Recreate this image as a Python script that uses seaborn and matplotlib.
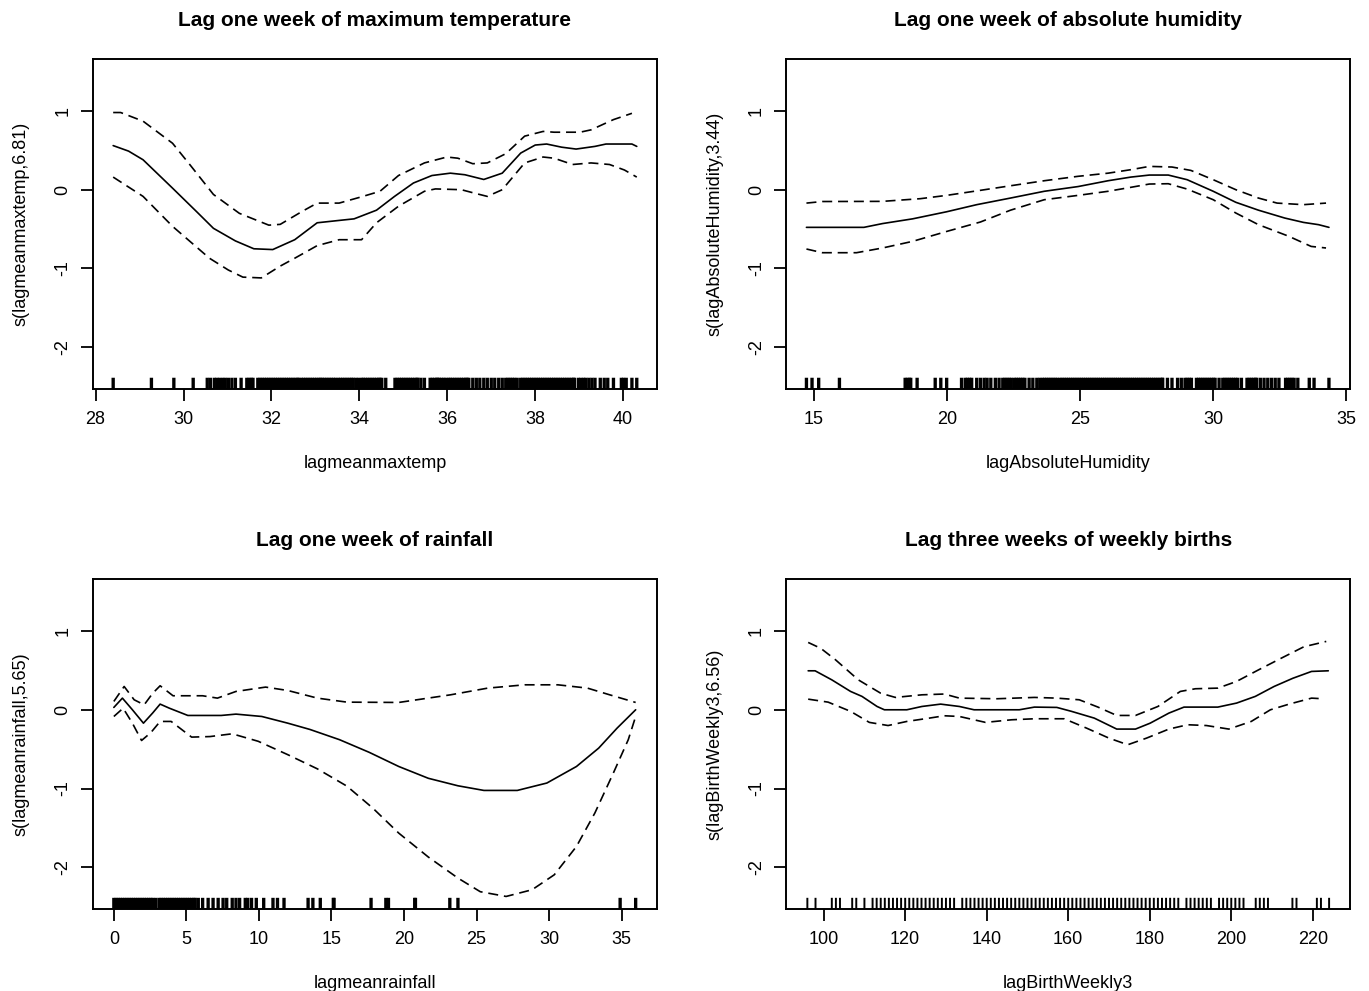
import matplotlib
matplotlib.use("Agg")
import matplotlib.pyplot as plt
import seaborn as sns

# ---- lag one week of maximum temperature, s(lagmeanmaxtemp,6.81)
temp_fit_x = [28.40, 28.75, 29.08, 29.75, 30.30, 30.68, 31.18, 31.60, 32.03, 32.53, 33.04, 33.54, 33.88,
              34.39, 34.80, 35.23, 35.65, 36.07, 36.40, 36.83, 37.25, 37.67, 38.00, 38.26, 38.60, 38.93,
              39.36, 39.61, 40.20, 40.31]
temp_fit_y = [0.56, 0.49, 0.38, 0.02, -0.28, -0.49, -0.65, -0.75, -0.76, -0.635, -0.42, -0.39, -0.37,
              -0.26, -0.085, 0.085, 0.18, 0.21, 0.19, 0.13, 0.21, 0.465, 0.567, 0.58, 0.54, 0.516, 0.55,
              0.58, 0.58, 0.55]
temp_up_x = [28.40, 28.57, 29.08, 29.75, 30.17, 30.68, 31.27, 31.94, 32.20, 32.70, 33.04, 33.54, 34.05,
             34.47, 34.89, 35.48, 35.99, 36.24, 36.58, 36.91, 37.33, 37.76, 38.18, 38.43, 39.02, 39.27,
             39.78, 40.20]
temp_up_y = [0.98, 0.98, 0.87, 0.59, 0.30, -0.06, -0.30, -0.45, -0.44, -0.275, -0.17, -0.17, -0.09,
             -0.02, 0.18, 0.34, 0.415, 0.40, 0.33, 0.34, 0.457, 0.68, 0.74, 0.73, 0.73, 0.76, 0.89, 0.97]
temp_lo_x = [28.40, 29.08, 29.75, 30.59, 31.02, 31.35, 31.77, 32.20, 32.53, 33.04, 33.54, 34.05, 34.39,
             34.89, 35.48, 35.73, 36.32, 36.66, 36.91, 37.25, 37.76, 38.18, 38.43, 38.85, 39.27, 39.69,
             40.03, 40.31]
temp_lo_y = [0.16, -0.085, -0.465, -0.87, -1.02, -1.11, -1.12, -0.97, -0.87, -0.71, -0.635, -0.635, -0.42,
             -0.21, -0.02, 0.01, 0.0, -0.05, -0.085, 0.0, 0.34, 0.415, 0.40, 0.32, 0.34, 0.32, 0.25, 0.16]
temp_rug = [28.40, 29.27, 29.78, 30.22, 30.54, 30.61, 30.70, 30.76, 30.82, 30.89, 30.95, 31.02, 31.10,
            31.18, 31.31, 31.44, 31.49, 31.54, 31.58, 31.69, 31.74, 31.79, 31.84, 31.89, 31.94, 31.99,
            32.04, 32.09, 32.14, 32.19, 32.24, 32.29, 32.34, 32.39, 32.44, 32.49, 32.54, 32.59, 32.62,
            32.68, 32.73, 32.78, 32.83, 32.88, 32.93, 32.98, 33.03, 33.08, 33.12, 33.16, 33.21, 33.26,
            33.31, 33.36, 33.41, 33.46, 33.52, 33.57, 33.62, 33.67, 33.72, 33.77, 33.82, 33.86, 33.92,
            33.98, 34.05, 34.09, 34.14, 34.19, 34.24, 34.29, 34.34, 34.39, 34.44, 34.47, 34.51, 34.60,
            34.81, 34.86, 34.91, 34.96, 35.01, 35.06, 35.11, 35.16, 35.21, 35.26, 35.31, 35.33, 35.40,
            35.48, 35.61, 35.66, 35.71, 35.76, 35.78, 35.82, 35.87, 35.92, 35.97, 36.03, 36.07, 36.12,
            36.17, 36.22, 36.27, 36.32, 36.37, 36.42, 36.45, 36.49, 36.58, 36.66, 36.74, 36.83, 36.91,
            37.00, 37.08, 37.17, 37.25, 37.33, 37.38, 37.43, 37.48, 37.53, 37.59, 37.67, 37.72, 37.77,
            37.82, 37.87, 37.92, 37.97, 38.02, 38.07, 38.12, 38.17, 38.22, 38.27, 38.32, 38.37, 38.42,
            38.47, 38.52, 38.57, 38.62, 38.67, 38.72, 38.77, 38.82, 38.87, 38.89, 38.98, 39.04, 39.10,
            39.15, 39.22, 39.29, 39.36, 39.48, 39.57, 39.65, 39.78, 39.96, 40.01, 40.07, 40.20, 40.31]

# ---- lag one week of absolute humidity, s(lagAbsoluteHumidity,3.44)
hum_fit_x = [14.72, 16.88, 17.58, 18.71, 19.99, 21.12, 22.39, 23.66, 24.93, 26.06, 26.91, 27.61, 28.32,
             29.03, 30.01, 30.86, 31.71, 32.70, 33.40, 33.97, 34.36]
hum_fit_y = [-0.478, -0.478, -0.43, -0.37, -0.28, -0.19, -0.106, -0.02, 0.04, 0.114, 0.16, 0.186, 0.186,
             0.127, -0.02, -0.16, -0.26, -0.36, -0.415, -0.444, -0.478]
hum_up_x = [14.72, 15.32, 17.58, 19.00, 19.99, 21.26, 22.39, 23.66, 24.93, 26.06, 26.91, 27.61, 28.46,
            29.17, 30.01, 30.86, 31.71, 32.41, 33.40, 34.25]
hum_up_y = [-0.17, -0.15, -0.148, -0.114, -0.072, -0.008, 0.05, 0.114, 0.17, 0.21, 0.254, 0.296, 0.288,
            0.245, 0.127, 0.0, -0.106, -0.17, -0.19, -0.17]
hum_lo_x = [14.72, 15.32, 16.60, 17.58, 18.71, 19.99, 21.26, 22.39, 23.66, 24.93, 26.06, 26.91, 27.61,
            28.32, 29.03, 30.01, 30.86, 31.71, 32.84, 33.69, 34.25]
hum_lo_y = [-0.753, -0.80, -0.80, -0.74, -0.656, -0.53, -0.41, -0.26, -0.127, -0.072, -0.02, 0.03, 0.072,
            0.076, 0.008, -0.127, -0.296, -0.444, -0.59, -0.72, -0.74]
hum_rug = [14.72, 14.93, 15.18, 15.96, 18.43, 18.51, 18.59, 18.64, 18.88, 19.56, 19.77, 19.99, 20.55,
           20.69, 20.77, 20.85, 20.93, 21.12, 21.26, 21.40, 21.51, 21.65, 21.82, 21.96, 22.10, 22.18,
           22.26, 22.34, 22.42, 22.53, 22.61, 22.69, 22.77, 22.85, 22.93, 23.09, 23.23, 23.38, 23.49,
           23.59, 23.67, 23.75, 23.83, 23.91, 23.99, 24.07, 24.15, 24.25, 24.33, 24.41, 24.49, 24.57,
           24.65, 24.73, 24.81, 24.89, 24.97, 25.05, 25.13, 25.21, 25.29, 25.37, 25.45, 25.53, 25.61,
           25.69, 25.77, 25.85, 25.93, 26.01, 26.09, 26.17, 26.25, 26.33, 26.41, 26.49, 26.57, 26.65,
           26.73, 26.81, 26.89, 26.97, 27.05, 27.13, 27.21, 27.29, 27.37, 27.45, 27.53, 27.61, 27.69,
           27.77, 27.85, 27.93, 28.01, 28.09, 28.11, 28.29, 28.46, 28.67, 28.81, 28.95, 29.03, 29.11,
           29.19, 29.38, 29.46, 29.54, 29.62, 29.70, 29.78, 29.86, 29.94, 30.02, 30.08, 30.23, 30.37,
           30.45, 30.53, 30.61, 30.69, 30.77, 30.85, 30.93, 31.07, 31.28, 31.36, 31.44, 31.52, 31.60,
           31.64, 31.78, 31.92, 32.06, 32.20, 32.34, 32.48, 32.73, 32.81, 32.89, 32.97, 33.05, 33.19,
           33.62, 33.80, 34.36]

# ---- lag one week of rainfall, s(lagmeanrainfall,5.65)
rain_fit_x = [0.0, 0.59, 1.28, 2.04, 2.68, 3.19, 3.83, 5.10, 7.40, 8.42, 10.20, 11.99, 13.52, 15.56,
              17.60, 19.64, 21.68, 23.72, 25.51, 27.81, 29.85, 31.89, 33.42, 34.69, 35.97]
rain_fit_y = [0.03, 0.148, 0.0, -0.17, -0.04, 0.072, 0.02, -0.072, -0.072, -0.055, -0.085, -0.17, -0.25,
              -0.38, -0.54, -0.72, -0.87, -0.965, -1.024, -1.024, -0.93, -0.72, -0.487, -0.233, 0.0]
rain_up_x = [0.0, 0.71, 1.40, 2.09, 2.68, 3.19, 4.08, 6.12, 7.14, 8.42, 10.46, 11.99, 14.03, 16.07,
             19.64, 23.21, 25.77, 28.32, 30.61, 32.65, 34.18, 35.97]
rain_up_y = [0.106, 0.296, 0.127, 0.063, 0.21, 0.305, 0.178, 0.178, 0.148, 0.233, 0.288, 0.245, 0.148,
             0.097, 0.093, 0.19, 0.275, 0.317, 0.317, 0.275, 0.19, 0.093]
rain_lo_x = [0.0, 0.64, 1.28, 1.91, 2.55, 3.19, 3.95, 5.36, 6.63, 8.16, 9.95, 11.99, 14.03, 16.07, 17.86,
             19.64, 21.68, 23.72, 25.26, 27.04, 28.83, 30.36, 31.89, 33.16, 34.44, 35.46, 35.97]
rain_lo_y = [-0.085, 0.02, -0.17, -0.39, -0.29, -0.148, -0.148, -0.347, -0.34, -0.305, -0.40, -0.57, -0.75,
             -0.97, -1.25, -1.566, -1.87, -2.137, -2.31, -2.37, -2.285, -2.095, -1.735, -1.31, -0.80,
             -0.38, -0.085]
rain_rug = [0.00, 0.15, 0.30, 0.45, 0.60, 0.75, 0.90, 1.05, 1.20, 1.35, 1.50, 1.65, 1.80, 1.95, 2.10,
            2.25, 2.40, 2.55, 2.68, 2.88, 3.11, 3.26, 3.41, 3.56, 3.71, 3.86, 4.01, 4.16, 4.31, 4.46,
            4.61, 4.76, 4.91, 5.06, 5.21, 5.36, 5.51, 5.61, 5.82, 6.12, 6.50, 6.84, 7.19, 7.53, 7.78,
            8.16, 8.42, 8.67, 9.06, 9.23, 9.49, 9.82, 10.33, 10.97, 11.28, 11.73, 13.39, 13.72, 14.23,
            15.13, 15.18, 17.73, 18.75, 18.93, 20.74, 20.79, 23.16, 23.72, 34.90, 35.97]

# ---- lag three weeks of weekly births, s(lagBirthWeekly3,6.56)
birth_fit_x = [96.2, 97.9, 102.0, 106.6, 109.4, 113.1, 114.9, 120.4, 124.1, 128.7, 133.3, 136.9, 148.0,
               151.7, 157.2, 160.8, 166.4, 171.9, 176.5, 180.1, 184.7, 188.4, 196.7, 201.3, 205.9, 210.5,
               215.1, 219.7, 223.8]
birth_fit_y = [0.495, 0.495, 0.38, 0.233, 0.17, 0.042, 0.0, 0.0, 0.042, 0.072, 0.042, 0.0, 0.0, 0.034,
               0.03, -0.02, -0.106, -0.245, -0.245, -0.17, -0.042, 0.034, 0.034, 0.085, 0.17, 0.296,
               0.40, 0.487, 0.495]
birth_up_x = [96.2, 99.3, 102.9, 108.5, 114.0, 117.6, 124.1, 129.6, 133.3, 142.5, 151.7, 157.2, 162.7,
              167.3, 171.9, 176.5, 182.0, 187.5, 191.2, 196.7, 201.3, 206.8, 212.3, 217.8, 223.3]
birth_up_y = [0.855, 0.78, 0.635, 0.38, 0.21, 0.157, 0.19, 0.2, 0.148, 0.14, 0.157, 0.148, 0.127, 0.034,
              -0.072, -0.072, 0.042, 0.233, 0.267, 0.275, 0.36, 0.51, 0.656, 0.80, 0.868]
birth_lo_x = [96.2, 101.1, 106.6, 111.2, 115.8, 120.4, 125.9, 129.6, 133.3, 139.7, 146.1, 151.7, 159.0,
              164.5, 170.0, 174.6, 179.2, 184.7, 189.3, 193.9, 199.4, 204.9, 209.6, 214.2, 219.7, 222.4]
birth_lo_y = [0.135, 0.097, -0.02, -0.16, -0.2, -0.148, -0.106, -0.076, -0.085, -0.16, -0.127, -0.114,
              -0.114, -0.233, -0.36, -0.444, -0.36, -0.245, -0.19, -0.2, -0.245, -0.148, 0.0, 0.072,
              0.148, 0.14]
birth_rug = [96, 98, 102, 103, 104, 107, 108, 110, 112, 113, 114, 115, 116, 117, 118, 119, 120, 121, 122,
             123, 124, 125, 126, 127, 128, 129, 130, 131, 132, 134, 135, 136, 137, 138, 139, 140, 141,
             142, 143, 144, 145, 146, 147, 148, 149, 150, 151, 152, 153, 154, 155, 156, 157, 158, 159,
             160, 161, 162, 163, 164, 165, 166, 167, 168, 169, 170, 171, 172, 173, 174, 175, 176, 177,
             178, 179, 180, 181, 182, 183, 184, 185, 186, 187, 189, 190, 191, 192, 193, 194, 195, 197,
             198, 199, 200, 201, 202, 203, 206, 207, 208, 209, 215, 216, 221, 222, 224]

y_ticks = [-2, -1, 0, 1]
y_tick_labels = ["-2", "-1", "0", "1"]

sns.set_theme(style="white")
plt.rcParams["font.family"] = ["Liberation Sans", "DejaVu Sans"]
plt.rcParams["text.color"] = "black"
plt.rcParams["axes.labelcolor"] = "black"

DASH = (0, (6, 3.5))


def draw_smooth(ax, fit, upper, lower, rug, rug_lw, xlim, xticks, title, xlabel, ylabel):
    """One term of the fitted GAM: smooth, +/- 2 se bands and a rug of the observations."""
    sns.lineplot(x=fit[0], y=fit[1], ax=ax, color="black", linewidth=1.2, sort=False)
    for band in (upper, lower):
        sns.lineplot(x=band[0], y=band[1], ax=ax, color="black", linewidth=1.2,
                     linestyle=DASH, sort=False)
    sns.rugplot(x=rug, ax=ax, height=0.034, color="black", expand_margins=False)
    rug_lines = ax.collections[-1]
    rug_lines.set_linewidth(rug_lw)
    rug_lines.set_snap(False)

    ax.set_xlim(*xlim)
    ax.set_ylim(-2.53, 1.66)
    ax.set_xticks(xticks)
    ax.set_xticklabels([str(t) for t in xticks])
    ax.set_yticks(y_ticks)
    ax.set_yticklabels(y_tick_labels, rotation=90, va="center")
    ax.tick_params(axis="both", direction="out", length=8.6, width=1.3, labelsize=13,
                   colors="black", bottom=True, left=True)
    ax.tick_params(axis="x", pad=7.5)
    ax.tick_params(axis="y", pad=7)
    for side in ax.spines.values():
        side.set_visible(True)
        side.set_color("black")
        side.set_linewidth(1.4)

    ax.set_title(title, fontsize=15, fontweight="bold", pad=24, color="black")
    ax.set_xlabel(xlabel, fontsize=13)
    ax.set_ylabel(ylabel, fontsize=13)
    ax.xaxis.set_label_coords(0.5, -0.2)
    ax.yaxis.set_label_coords(-0.112, 0.5)


fig = plt.figure(figsize=(13.69, 9.91), dpi=100)
ax1 = fig.add_axes([0.0679, 0.6075, 0.412, 0.333])
ax2 = fig.add_axes([0.5745, 0.6075, 0.4116, 0.333])
ax3 = fig.add_axes([0.0679, 0.0827, 0.412, 0.333])
ax4 = fig.add_axes([0.5745, 0.0827, 0.4116, 0.333])

draw_smooth(ax1, (temp_fit_x, temp_fit_y), (temp_up_x, temp_up_y), (temp_lo_x, temp_lo_y), temp_rug, 2.4,
            (27.94, 40.77), [28, 30, 32, 34, 36, 38, 40],
            "Lag one week of maximum temperature", "lagmeanmaxtemp", "s(lagmeanmaxtemp,6.81)")
draw_smooth(ax2, (hum_fit_x, hum_fit_y), (hum_up_x, hum_up_y), (hum_lo_x, hum_lo_y), hum_rug, 2.4,
            (13.97, 35.15), [15, 20, 25, 30, 35],
            "Lag one week of absolute humidity", "lagAbsoluteHumidity", "s(lagAbsoluteHumidity,3.44)")
draw_smooth(ax3, (rain_fit_x, rain_fit_y), (rain_up_x, rain_up_y), (rain_lo_x, rain_lo_y), rain_rug, 2.4,
            (-1.44, 37.44), [0, 5, 10, 15, 20, 25, 30, 35],
            "Lag one week of rainfall", "lagmeanrainfall", "s(lagmeanrainfall,5.65)")
draw_smooth(ax4, (birth_fit_x, birth_fit_y), (birth_up_x, birth_up_y), (birth_lo_x, birth_lo_y), birth_rug,
            1.4, (90.88, 229.12), [100, 120, 140, 160, 180, 200, 220],
            "Lag three weeks of weekly births", "lagBirthWeekly3", "s(lagBirthWeekly3,6.56)")

fig.savefig("out.png", dpi=100, facecolor="white")
